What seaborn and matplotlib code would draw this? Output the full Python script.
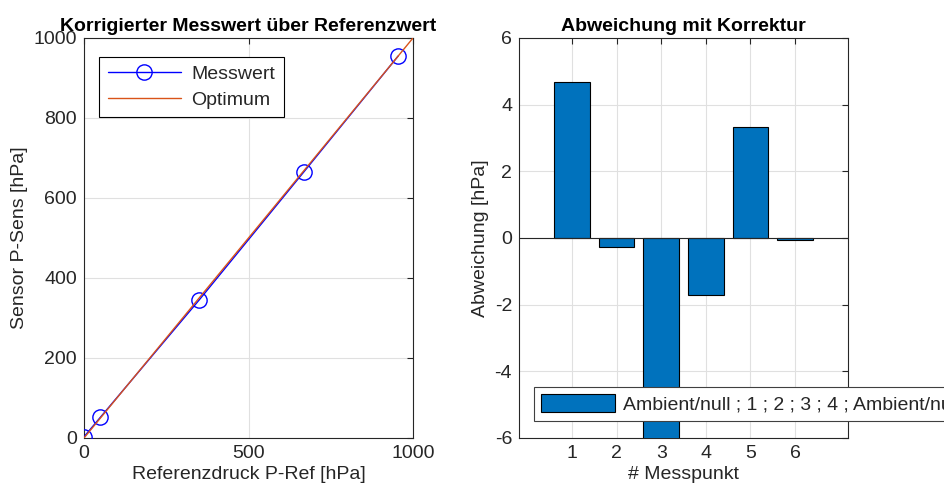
import matplotlib
matplotlib.use("Agg")
import matplotlib.pyplot as plt
import seaborn as sns
import pandas as pd

# Data
ref_druck = [0, 50, 350, 668, 955]
sensor_mess = [3, 52, 345, 665, 955]
optimum_x = [0, 1000]
optimum_y = [0, 1000]

messpunkt = [1, 2, 3, 4, 5, 6]
abweichung = [4.68, -0.27, -7.0, -1.71, 3.34, -0.07]
bar_legend = "Ambient/null ; 1 ; 2 ; 3 ; 4 ; Ambient/null"

sns.set_theme(style="white")
plt.rcParams['font.family'] = ['Liberation Sans', 'DejaVu Sans']
plt.rcParams['axes.unicode_minus'] = False
txt = '#262626'
grid_c = '#e0e0e0'
fs = 14

fig = plt.figure(figsize=(9.44, 4.93), dpi=100)
ax1 = fig.add_axes([84/944, 1-438/493, 329/944, 400/493])
ax2 = fig.add_axes([519/944, 1-438/493, 329/944, 400/493])

# Left plot
sns.lineplot(x=ref_druck, y=sensor_mess, ax=ax1, color='#0000ff', lw=1.0,
             marker='o', markersize=11, markerfacecolor='none',
             markeredgecolor='#0000ff', markeredgewidth=1.0, label='Messwert', zorder=3)
sns.lineplot(x=optimum_x, y=optimum_y, ax=ax1, color='#d95319', lw=1.0,
             label='Optimum', zorder=4)
ax1.set_xlim(0, 1000)
ax1.set_ylim(0, 1000)
ax1.set_xticks([0, 500, 1000])
ax1.set_yticks([0, 200, 400, 600, 800, 1000])
ax1.set_title('Korrigierter Messwert über Referenzwert', fontsize=fs,
              fontweight='bold', color='black', pad=5)
ax1.set_xlabel('Referenzdruck P-Ref [hPa]', fontsize=fs, color=txt, labelpad=3)
ax1.set_ylabel('Sensor P-Sens [hPa]', fontsize=fs, color=txt, labelpad=4)
leg1 = ax1.legend(loc='upper left', bbox_to_anchor=(0.045, 0.953), borderaxespad=0,
                  fontsize=fs, frameon=True, fancybox=False, handlelength=3.8,
                  edgecolor='black', framealpha=1, borderpad=0.45, labelspacing=0.4,
                  handletextpad=0.5)
leg1.get_frame().set_linewidth(0.8)

# Right plot
df = pd.DataFrame({'Messpunkt': messpunkt, 'Abweichung': abweichung})
sns.barplot(data=df, x='Messpunkt', y='Abweichung', ax=ax2, native_scale=True,
            width=0.8, color='#0072bd', saturation=1, edgecolor='black',
            linewidth=0.8, label=bar_legend, zorder=3)
ax2.axhline(0, color='#262626', lw=0.8, zorder=4)
ax2.set_xlim(-0.19, 7.19)
ax2.set_ylim(-6, 6)
ax2.set_xticks(messpunkt)
ax2.set_yticks([-6, -4, -2, 0, 2, 4, 6])
ax2.set_title('Abweichung mit Korrektur', fontsize=fs, fontweight='bold',
              color='black', pad=5)
ax2.set_xlabel('# Messpunkt', fontsize=fs, color=txt, labelpad=3)
ax2.set_ylabel('Abweichung [hPa]', fontsize=fs, color=txt, labelpad=4)
leg2 = ax2.legend(loc='upper left', bbox_to_anchor=(0.046, 0.1275), borderaxespad=0,
                  fontsize=fs, frameon=True, fancybox=False, handlelength=3.8,
                  handleheight=1.1, edgecolor='#404040', framealpha=1, borderpad=0.35,
                  handletextpad=0.4)
leg2.get_frame().set_linewidth(0.8)
leg2.set_zorder(10)

for ax in (ax1, ax2):
    ax.grid(True, color=grid_c, lw=0.8)
    ax.set_axisbelow(True)
    ax.tick_params(direction='in', top=True, right=True, length=4, width=0.8,
                   colors=txt, labelsize=fs, pad=5)
    for s in ax.spines.values():
        s.set_visible(True)
        s.set_color('#262626')
        s.set_linewidth(0.8)

fig.savefig('out.png', dpi=100)
